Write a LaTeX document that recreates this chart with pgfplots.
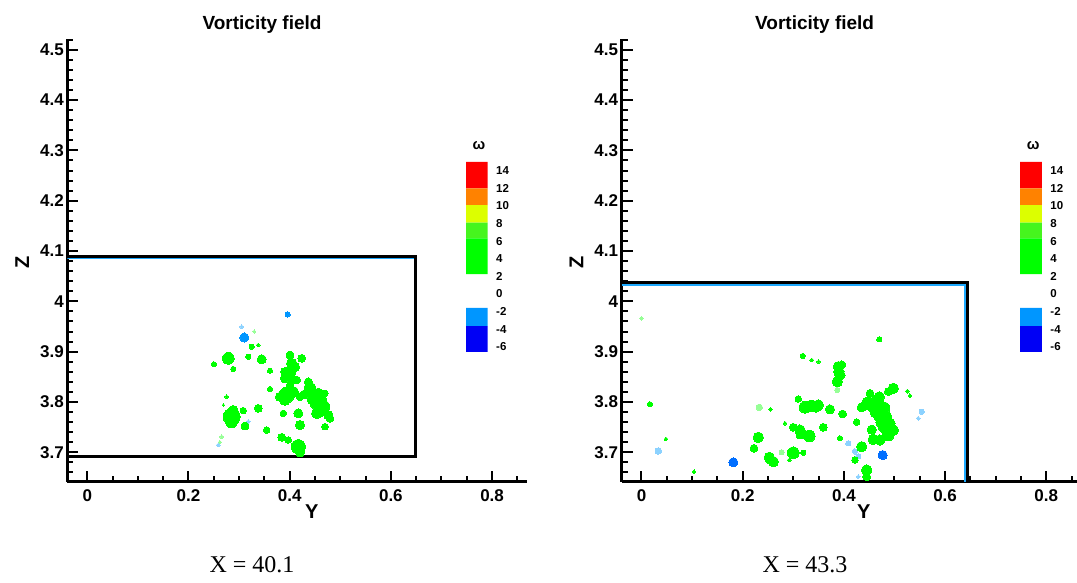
\documentclass[border=0pt]{standalone}
\usepackage{pgfplots}
\usepackage{pgfplotstable}
\pgfplotsset{compat=1.18}
\usepackage{fontspec}
\newfontfamily\hv{Liberation Sans}
\newfontfamily\tm{Liberation Serif}
\definecolor{vgreen}{RGB}{0,255,0}
\definecolor{fgreen}{RGB}{150,255,150}
\definecolor{lblue}{RGB}{0,150,255}
\definecolor{mblue}{RGB}{0,110,255}
\definecolor{fblue}{RGB}{140,210,255}
\definecolor{cbred}{RGB}{255,0,0}
\definecolor{cborange}{RGB}{255,130,0}
\definecolor{cbyellow}{RGB}{220,255,0}
\definecolor{cblgreen}{RGB}{70,245,30}
\definecolor{cbgreen}{RGB}{0,255,0}
\definecolor{cblblue}{RGB}{0,150,255}
\definecolor{cbdblue}{RGB}{0,0,245}
\definecolor{edgeblue}{RGB}{30,170,255}

% left panel (X = 40.1)
\pgfplotstableread{
y z r
0.2787 3.8867 4.5
0.2504 3.8747 2
0.2885 3.8654 2
0.3249 3.9097 2
0.3379 3.9131 1.5
0.3447 3.8847 3.5
0.3611 3.8620 2
0.3182 3.8899 2
0.4040 3.8767 4
0.4237 3.8867 3
0.4006 3.8600 4.5
0.4138 3.8435 3
0.3907 3.8469 3.5
0.3611 3.8256 2
0.3940 3.8137 6
0.3808 3.8103 3.5
0.4071 3.8203 4
0.4204 3.8103 3
0.4401 3.8270 4.5
0.4565 3.8171 4
0.4698 3.8171 2.5
0.4534 3.7972 5
0.4664 3.7905 5
0.4763 3.7740 3.5
0.4534 3.7773 4
0.2854 3.7706 6.5
0.2885 3.7839 3.5
0.3083 3.7826 2.5
0.3379 3.7873 3
0.3545 3.7441 2.5
0.3117 3.7521 3
0.3874 3.7773 2.5
0.4170 3.7773 3.5
0.4204 3.7541 3.5
0.3842 3.7296 3
0.3972 3.7243 2.5
0.4170 3.7109 5.5
0.4698 3.7507 2.5
0.2755 3.8103 1.5
0.2689 3.7938 1
0.4204 3.6998 3.5
0.4006 3.8932 3
0.4105 3.8690 3.5
0.4368 3.8400 3
0.4632 3.8039 4
0.4796 3.7673 3
0.4006 3.8320 3
0.3907 3.8037 4
0.4450 3.8050 4
0.4300 3.8150 3.5
0.4600 3.7800 4
0.3900 3.8600 3
0.4050 3.8450 3.5
0.2850 3.7600 4.5
0.2900 3.7800 3.5
}\leftgreen
\pgfplotstableread{
y z r
0.2656 3.7308 1.5
0.2620 3.7200 1.2
0.3300 3.9400 1.2
}\leftfaint
\pgfplotstableread{
y z r
0.3103 3.9280 3.5
0.3960 3.9740 2
}\leftblue
\pgfplotstableread{
y z r
0.3050 3.9495 1.5
0.3182 3.7606 1.5
0.2589 3.7143 1.5
}\leftfblue

% right panel (X = 43.3)
\pgfplotstableread{
y z r
0.4700 3.9244 2
0.3186 3.8913 2
0.3364 3.8833 1.5
0.3500 3.8800 1.5
0.3890 3.8700 4
0.3923 3.8535 4
0.3870 3.8402 4
0.3960 3.8737 3
0.3099 3.8058 2.5
0.3231 3.7893 4.5
0.3364 3.7918 4.5
0.3494 3.7940 4
0.3725 3.7853 3.5
0.3976 3.7760 3
0.2551 3.7853 1.5
0.4253 3.7600 2.5
0.4516 3.8171 3
0.4482 3.7972 5
0.4648 3.8005 5
0.4779 3.7873 5
0.4648 3.7805 5
0.4846 3.7706 4
0.4911 3.7575 4
0.4976 3.7441 4
0.4877 3.7342 4.5
0.4713 3.7243 4
0.4581 3.7256 4
0.4352 3.7893 3.5
0.4600 3.7900 5
0.4750 3.7600 4.5
0.4800 3.7500 4.5
0.4700 3.7700 4
0.4976 3.8270 4
0.4877 3.8205 3
0.5253 3.8214 1.5
0.5306 3.8122 1.5
0.2836 3.7575 1.5
0.3000 3.7495 3
0.3132 3.7441 4
0.3132 3.7342 3
0.3316 3.7322 4.5
0.3593 3.7495 3
0.3923 3.7276 2
0.2308 3.7296 4
0.2223 3.7078 3
0.2526 3.6899 4
0.2605 3.6811 4
0.3000 3.6990 4.5
0.3198 3.6990 2
0.2921 3.6845 1.5
0.4352 3.7109 4
0.4219 3.6845 2.5
0.4451 3.6646 4
0.4451 3.6513 3
0.0168 3.7952 2
0.0484 3.7262 1.5
0.1038 3.6612 1.5
0.3300 3.7900 4
0.3450 3.7900 4
0.4700 3.8100 4
0.4550 3.7450 3.5
0.4900 3.7500 4
0.3900 3.8600 4
0.2550 3.6850 3.5
}\rightgreen
\pgfplotstableread{
y z r
0.3870 3.8237 2
0.2328 3.7893 2.5
0.2770 3.6998 2
0.0000 3.9660 1.5
}\rightfaint
\pgfplotstableread{
y z r
0.4767 3.6944 3.5
0.1815 3.6799 3.5
}\rightblue
\pgfplotstableread{
y z r
0.4087 3.7177 2
0.4219 3.7016 2
0.4285 3.6918 2
0.5537 3.7805 2
0.5471 3.7674 1.5
0.4285 3.6513 1.5
0.0332 3.7024 2.5
}\rightfblue

\pgfplotsset{
  panel/.style={
    scale only axis, anchor=south west, height=442.7pt,
    xmin=-0.0395, ymin=3.6414, ymax=4.5215,
    axis x line=bottom, axis y line=left,
    axis line style={line width=2.6pt, -},
    xtick={0,0.2,0.4,0.6,0.8}, xticklabels={0,0.2,0.4,0.6,0.8},
    ytick={3.7,3.8,3.9,4.0,4.1,4.2,4.3,4.4,4.5},
    yticklabels={3.7,3.8,3.9,4,4.1,4.2,4.3,4.4,4.5},
    minor xtick={0.05,0.1,0.15,0.25,0.3,0.35,0.45,0.5,0.55,0.65,0.7,0.75,0.85},
    minor ytick={3.66,3.68,3.72,3.74,3.76,3.78,3.82,3.84,3.86,3.88,3.92,3.94,3.96,3.98,4.02,4.04,4.06,4.08,4.12,4.14,4.16,4.18,4.22,4.24,4.26,4.28,4.32,4.34,4.36,4.38,4.42,4.44,4.46,4.48,4.52},
    tick align=inside, major tick length=11pt, minor tick length=6pt,
    every tick/.style={black, line width=2pt},
    tick label style={font=\hv\bfseries\fontsize{17}{17}\selectfont},
    xticklabel style={yshift=-4pt},
    xlabel={Y}, ylabel={Z},
    label style={font=\hv\bfseries\fontsize{20}{20}\selectfont},
    xlabel style={at={(axis description cs:0.532,0)}, anchor=center, yshift=-30pt},
    ylabel style={at={(axis description cs:0,0.496)}, anchor=center, yshift=45pt},
    title={Vorticity field},
    title style={font=\hv\bfseries\fontsize{19}{19}\selectfont, at={(axis description cs:0.424,1)}, anchor=center, yshift=8pt},
    clip=true,
  },
  blobs/.style={only marks, mark=*, scatter,
    scatter/use mapped color={draw=#1, fill=#1},
    mark options={draw=#1, fill=#1, line width=0pt},
    visualization depends on={1.3*\thisrow{r} \as \rr},
    scatter/@pre marker code/.append style={/tikz/mark size=\rr}},
  cbar/.style={
    scale only axis, anchor=south west, width=21.7pt, height=220pt,
    xmin=0, xmax=1, ymin=-8, ymax=17,
    axis line style={draw=none}, xtick=\empty,
    ytick={-6,-4,-2,0,2,4,6,8,10,12,14},
    yticklabels={-6,-4,-2,0,2,4,6,8,10,12,14},
    yticklabel pos=right, major tick length=0pt, ytick style={draw=none},
    yticklabel style={font=\hv\bfseries\fontsize{11.5}{11.5}\selectfont, anchor=west, xshift=5pt},
    clip=false,
  },
}

\newcommand{\cbboxes}{%
  \addplot[fill=cbred, draw=none] coordinates {(0,12) (1,12) (1,15) (0,15) (0,12)};
  \addplot[fill=cborange, draw=none] coordinates {(0,10.1) (1,10.1) (1,12) (0,12) (0,10.1)};
  \addplot[fill=cbyellow, draw=none] coordinates {(0,8.1) (1,8.1) (1,10.1) (0,10.1) (0,8.1)};
  \addplot[fill=cblgreen, draw=none] coordinates {(0,6.3) (1,6.3) (1,8.1) (0,8.1) (0,6.3)};
  \addplot[fill=cbgreen, draw=none] coordinates {(0,2.26) (1,2.26) (1,6.3) (0,6.3) (0,2.26)};
  \addplot[fill=cblblue, draw=none] coordinates {(0,-3.65) (1,-3.65) (1,-1.6) (0,-1.6) (0,-3.65)};
  \addplot[fill=cbdblue, draw=none] coordinates {(0,-6.6) (1,-6.6) (1,-3.65) (0,-3.65) (0,-6.6)};
  \node[font=\hv\bfseries\fontsize{15}{15}\selectfont] at (axis cs:0.6,16.9) {ω};
}

\begin{document}
\begin{tikzpicture}[x=1pt,y=1pt]
\useasboundingbox (0,0) rectangle (1077,582);

% ---------- left panel ----------
\begin{axis}[panel, at={(67.3pt,100.3pt)}, width=459.4pt, xmax=0.8684]
  \addplot[blobs=fgreen] table[x=y, y=z] {\leftfaint};
  \addplot[blobs=fblue] table[x=y, y=z] {\leftfblue};
  \addplot[blobs=vgreen] table[x=y, y=z] {\leftgreen};
  \addplot[blobs=lblue] table[x=y, y=z] {\leftblue};
  \addplot[edgeblue, line width=1.6pt] coordinates {(-0.0395,4.0852) (0.645,4.0852)};
  \addplot[black, line width=3pt] coordinates {(-0.0395,4.0900) (0.6496,4.0900) (0.6496,3.6910) (-0.0395,3.6910)};
\end{axis}
\begin{axis}[cbar, at={(466pt,217.7pt)}]
  \cbboxes
\end{axis}

% ---------- right panel ----------
\begin{axis}[panel, at={(621.5pt,100.3pt)}, width=455.5pt, xmax=0.8607]
  \addplot[blobs=fgreen] table[x=y, y=z] {\rightfaint};
  \addplot[blobs=fblue] table[x=y, y=z] {\rightfblue};
  \addplot[blobs=vgreen] table[x=y, y=z] {\rightgreen};
  \addplot[blobs=mblue] table[x=y, y=z] {\rightblue};
  \addplot[edgeblue, line width=1.6pt] coordinates {(-0.0395,4.0325) (0.6393,4.0325) (0.6393,3.60)};
  \addplot[black, line width=3pt] coordinates {(-0.0395,4.0378) (0.6447,4.0378) (0.6447,3.60)};
\end{axis}
\begin{axis}[cbar, at={(1020.2pt,217.7pt)}]
  \cbboxes
\end{axis}

% captions
\node[font=\tm\fontsize{24}{24}\selectfont] at (252,17) {X = 40.1};
\node[font=\tm\fontsize{24}{24}\selectfont] at (805,17) {X = 43.3};
\end{tikzpicture}
\end{document}
